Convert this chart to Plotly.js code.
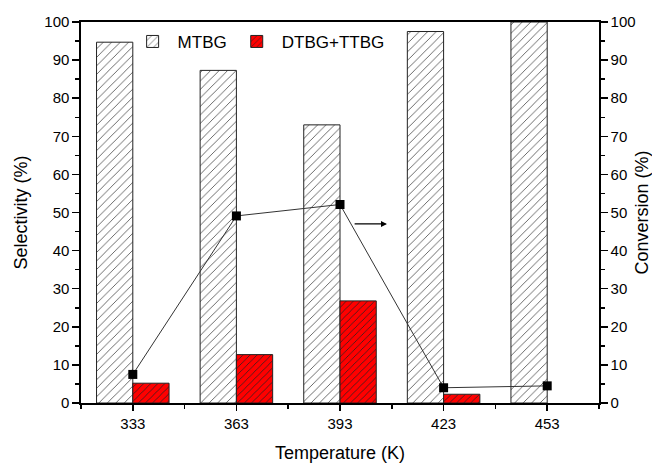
<!DOCTYPE html>
<html><head><meta charset="utf-8">
<script src="https://cdn.plot.ly/plotly-3.0.1.min.js"></script>
<style>body{margin:0;background:#fff}#chart{width:652px;height:464px}</style>
</head><body><div id="chart"></div>
<script>
const temps = [333, 363, 393, 423, 453];
const mtbg = [94.7, 87.3, 73.0, 97.5, 100];
const dtbgTtbg = [5.2, 12.7, 26.8, 2.3, null];
const conversion = [7.5, 49.1, 52.1, 4.0, 4.5];

const font = {family: 'Liberation Sans, Arial, sans-serif', color: '#000'};
const traces = [
  {type: 'bar', name: 'MTBG', x: temps, y: mtbg,
   marker: {color: '#fff', line: {color: '#222', width: 1},
            pattern: {shape: '/', fgcolor: '#333', bgcolor: '#fff', size: 6, solidity: 0.12}}},
  {type: 'bar', name: 'DTBG+TTBG', x: temps, y: dtbgTtbg,
   marker: {color: '#ff0000', line: {color: '#222', width: 1},
            pattern: {shape: '/', fgcolor: '#222', bgcolor: '#ff0000', size: 5, solidity: 0.15}}},
  {type: 'scatter', mode: 'lines+markers', name: 'Conversion', x: temps, y: conversion,
   yaxis: 'y2', showlegend: false,
   line: {color: '#333', width: 1}, marker: {symbol: 'square', size: 9, color: '#000'}}
];
const axisCommon = {showline: true, linecolor: '#000', linewidth: 1.6, ticks: 'outside',
  tickcolor: '#000', tickwidth: 1.5, showgrid: false, zeroline: false,
  tickfont: Object.assign({size: 15}, font)};
const layout = {
  width: 652, height: 464,
  margin: {l: 81, r: 53, t: 22, b: 61},
  paper_bgcolor: '#fff', plot_bgcolor: '#fff',
  barmode: 'group', bargap: 0.3, bargroupgap: 0,
  font: font,
  showlegend: true,
  legend: {orientation: 'h', x: 0.09, y: 0.995, yanchor: 'top', xanchor: 'left',
           bgcolor: 'rgba(0,0,0,0)', font: Object.assign({size: 17}, font), itemwidth: 40},
  xaxis: Object.assign({}, axisCommon, {range: [318, 468], tick0: 333, dtick: 30, ticklen: 6,
    mirror: true,
    minor: {ticks: 'outside', dtick: 15, tick0: 333, ticklen: 4, tickcolor: '#000', tickwidth: 1.5},
    title: {text: 'Temperature (K)', font: Object.assign({size: 18}, font), standoff: 16}}),
  yaxis: Object.assign({}, axisCommon, {range: [0, 100], dtick: 10, ticklen: 7, mirror: false,
    minor: {ticks: 'outside', dtick: 5, ticklen: 4, tickcolor: '#000', tickwidth: 1.5},
    title: {text: 'Selectivity (%)', font: Object.assign({size: 18}, font), standoff: 12}}),
  yaxis2: Object.assign({}, axisCommon, {range: [0, 100], dtick: 10, ticklen: 7, overlaying: 'y', side: 'right',
    minor: {ticks: 'outside', dtick: 5, ticklen: 4, tickcolor: '#000', tickwidth: 1.5},
    title: {text: 'Conversion (%)', font: Object.assign({size: 18}, font), standoff: 10}}),
  annotations: [{x: 406.6, y: 47, xref: 'x', yref: 'y2', ax: 396.8, ay: 47, axref: 'x', ayref: 'y2',
    showarrow: true, arrowhead: 2, arrowsize: 1, arrowwidth: 1.2, arrowcolor: '#000', text: ''}]
};
Plotly.newPlot('chart', traces, layout, {displayModeBar: false, staticPlot: true});
</script></body></html>
